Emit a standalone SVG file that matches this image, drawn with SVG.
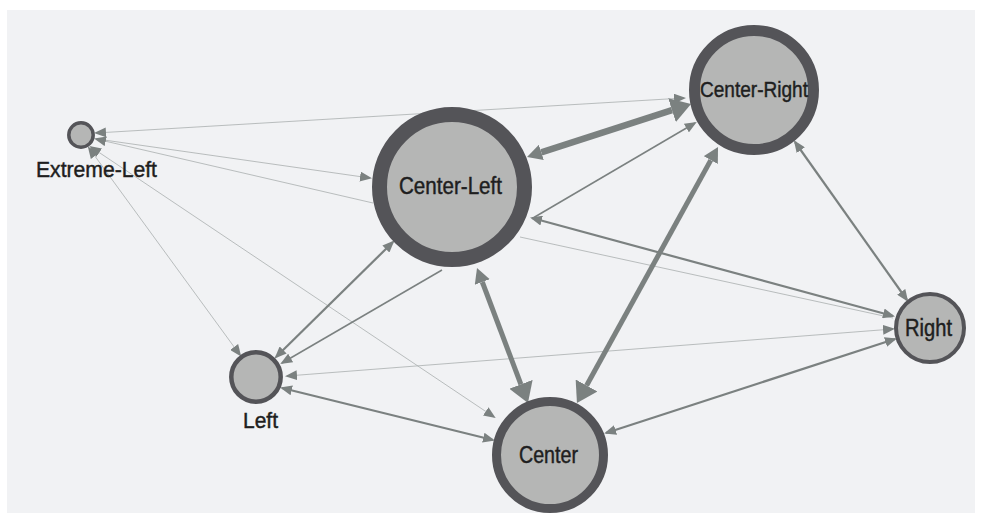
<svg xmlns="http://www.w3.org/2000/svg" width="981" height="519" viewBox="0 0 981 519">
  <style>
    .node circle { fill: #b5b6b5; stroke: #545458; }
    .label { font-family: "Liberation Sans", Arial, sans-serif; fill: #1e1e20; stroke: #1e1e20; stroke-width: 0.45; text-anchor: middle; }
    .edge { fill: none; stroke: #7b8180; }
    .thin { stroke: #a9aeae; stroke-width: 0.8; }
    .mid { stroke-width: 2.2; }
    .lite { stroke-width: 1.5; }
    .thick { stroke-width: 5; }
  </style>
  <defs>
    <!-- regular arrowhead; tip reaches 2px past the line end -->
    <marker id="arr" viewBox="0 0 12 10" markerUnits="userSpaceOnUse" markerWidth="12" markerHeight="10" refX="10" refY="5" orient="auto-start-reverse">
      <path d="M0,0 L12,5 L0,10 z" fill="#7b8180"/>
    </marker>
    <!-- heavy-edge arrowheads: base sits on the line end -->
    <marker id="arrB" viewBox="0 0 15 16" markerUnits="userSpaceOnUse" markerWidth="15" markerHeight="16" refX="0" refY="8" orient="auto-start-reverse">
      <path d="M0,0 L15,8 L0,16 z" fill="#7b8180"/>
    </marker>
    <marker id="arrC" viewBox="0 0 20 25" markerUnits="userSpaceOnUse" markerWidth="20" markerHeight="25" refX="0" refY="12.5" orient="auto-start-reverse">
      <path d="M0,0 L20,12.5 L0,25 z" fill="#7b8180"/>
    </marker>
  </defs>

  <rect x="7" y="10" width="968" height="503" fill="#f1f2f4"/>

  <g id="connectors">
    <!-- faint links -->
    <path class="edge thin" d="M96,133 L684,98" marker-start="url(#arr)" marker-end="url(#arr)"/>
    <path class="edge thin" d="M97,139 L370,178" marker-end="url(#arr)"/>
    <path class="edge thin" d="M373,203 L96,139" marker-end="url(#arr)"/>
    <path class="edge thin" d="M89,148 L240,355" marker-start="url(#arr)" marker-end="url(#arr)"/>
    <path class="edge thin" d="M91,147 L494,417" marker-start="url(#arr)" marker-end="url(#arr)"/>
    <path class="edge thin" d="M287,376 L893,329" marker-start="url(#arr)" marker-end="url(#arr)"/>
    <path class="edge thin" d="M520,237 L893,318"/>

    <!-- regular links -->
    <path class="edge lite" d="M533,218 L695,123" marker-end="url(#arr)"/>
    <path class="edge mid" d="M893,316 L532,218" marker-start="url(#arr)" marker-end="url(#arr)"/>
    <path class="edge mid" d="M276,357 L393,242" marker-start="url(#arr)" marker-end="url(#arr)"/>
    <path class="edge lite" d="M442,270 L282,363" marker-end="url(#arr)"/>
    <path class="edge mid" d="M795,142 L907,300" marker-start="url(#arr)" marker-end="url(#arr)"/>
    <path class="edge mid" d="M606,433 L895,339" marker-start="url(#arr)" marker-end="url(#arr)"/>
    <path class="edge mid" d="M282,388 L493,440" marker-start="url(#arr)" marker-end="url(#arr)"/>

    <!-- heavy links -->
    <path class="edge thick" style="stroke-width:6.5" d="M541.3,152.4 L672.0,110.2" marker-start="url(#arrB)" marker-end="url(#arrC)"/>
    <path class="edge thick" d="M482.3,282.0 L520.9,384.3" marker-start="url(#arrB)" marker-end="url(#arrC)"/>
    <path class="edge thick" d="M710.8,160.1 L586.6,385.5" marker-start="url(#arrB)" marker-end="url(#arrC)"/>
  </g>

  <g id="node-extreme-left" class="node">
    <circle cx="81" cy="135" r="12.2" stroke-width="3.5"/>
    <text class="label" x="96.5" y="177" font-size="22" textLength="121" lengthAdjust="spacingAndGlyphs">Extreme-Left</text>
  </g>
  <g id="node-center-left" class="node">
    <circle cx="452" cy="187" r="72.5" stroke-width="15"/>
    <text class="label" x="450.5" y="194" font-size="23" textLength="103" lengthAdjust="spacingAndGlyphs">Center-Left</text>
  </g>
  <g id="node-center-right" class="node">
    <circle cx="754" cy="90" r="59.5" stroke-width="11"/>
    <text class="label" x="754" y="97" font-size="22" textLength="108" lengthAdjust="spacingAndGlyphs">Center-Right</text>
  </g>
  <g id="node-center" class="node">
    <circle cx="550" cy="455" r="53.5" stroke-width="9"/>
    <text class="label" x="548.5" y="463" font-size="23" textLength="59" lengthAdjust="spacingAndGlyphs">Center</text>
  </g>
  <g id="node-right" class="node">
    <circle cx="930" cy="328" r="34" stroke-width="4"/>
    <text class="label" x="928.5" y="336" font-size="23" textLength="47" lengthAdjust="spacingAndGlyphs">Right</text>
  </g>
  <g id="node-left" class="node">
    <circle cx="256" cy="377" r="24.7" stroke-width="4.5"/>
    <text class="label" x="260.5" y="428" font-size="22" textLength="35" lengthAdjust="spacingAndGlyphs">Left</text>
  </g>
</svg>
